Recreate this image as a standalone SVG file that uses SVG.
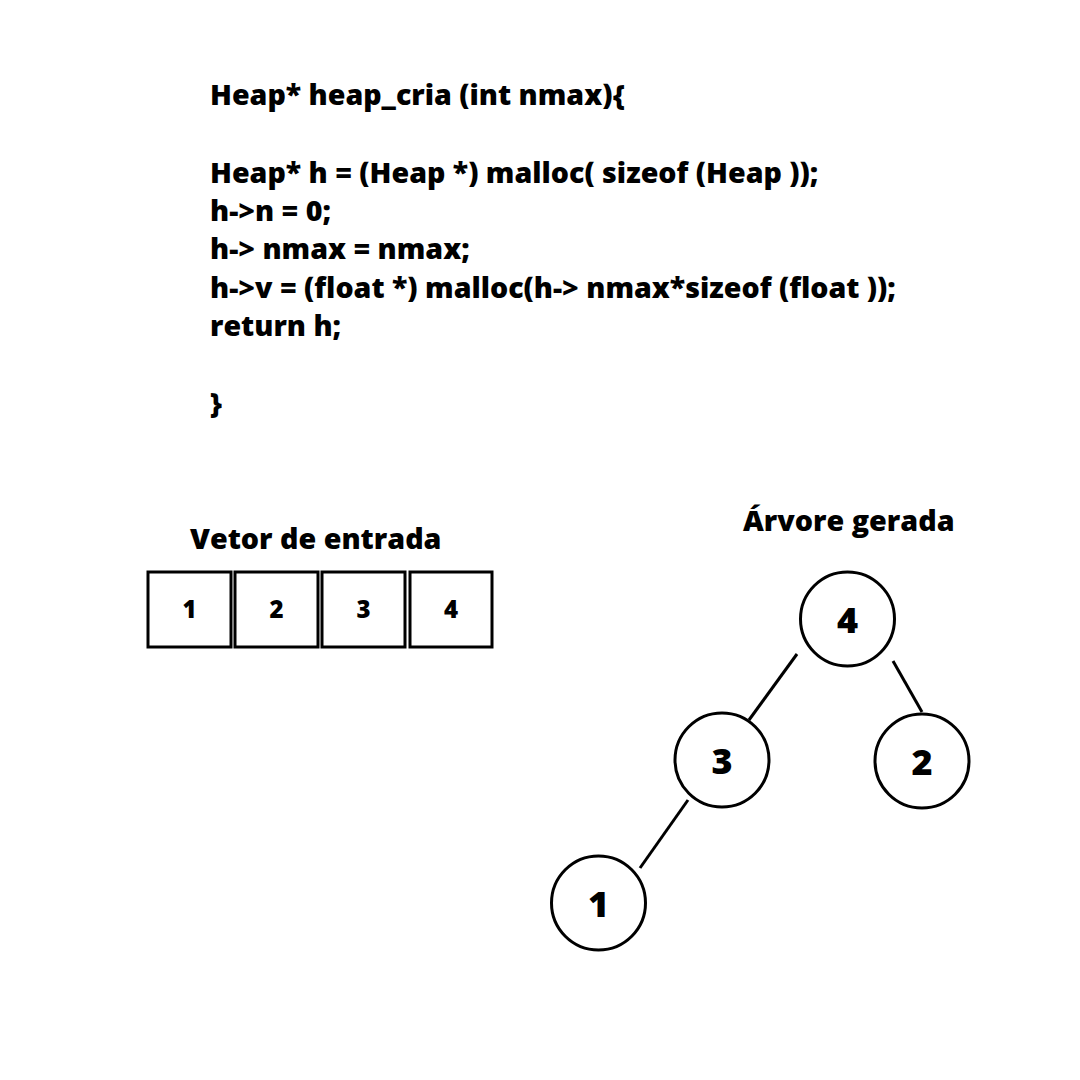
<svg xmlns="http://www.w3.org/2000/svg" width="1080" height="1080" viewBox="0 0 1080 1080">
<style>
text{font-family:"Open Sans","Liberation Sans",sans-serif;font-weight:800;fill:#000}
.code{font-size:28.6px}
.title{font-size:28.7px}
.box{fill:#fff;stroke:#000;stroke-width:3}
.bn{font-size:24px;text-anchor:middle}
.node{fill:#fff;stroke:#000;stroke-width:3}
.nn{font-size:36px;text-anchor:middle}
.edge{stroke:#000;stroke-width:3;stroke-linecap:butt}
</style>
<rect width="1080" height="1080" fill="#fff"/>
<g id="code">
<text class="code" x="210" y="105">Heap* heap_cria (int nmax){</text>
<text class="code" x="210" y="183">Heap* h = (Heap *) malloc( sizeof (Heap ));</text>
<text class="code" x="210" y="221">h-&gt;n = 0;</text>
<text class="code" x="210" y="259">h-&gt; nmax = nmax;</text>
<text class="code" x="210" y="298">h-&gt;v = (float *) malloc(h-&gt; nmax*sizeof (float ));</text>
<text class="code" x="210" y="336">return h;</text>
<text class="code" x="210" y="413">}</text>
</g>
<g id="vetor">
<text class="title" x="190" y="549">Vetor de entrada</text>
<rect class="box" x="148" y="572" width="83" height="75"/>
<rect class="box" x="235" y="572" width="83" height="75"/>
<rect class="box" x="322" y="572" width="83" height="75"/>
<rect class="box" x="410" y="572" width="82" height="75"/>
<text class="bn" x="189.5" y="618">1</text>
<text class="bn" x="276.5" y="618">2</text>
<text class="bn" x="363.5" y="618">3</text>
<text class="bn" x="451" y="618">4</text>
</g>
<text class="title" x="743" y="531">Árvore gerada</text>
<g id="edges">
<line class="edge" x1="797" y1="654" x2="749" y2="720"/>
<line class="edge" x1="893" y1="661" x2="922" y2="712"/>
<line class="edge" x1="688" y1="800" x2="640" y2="868"/>
</g>
<g id="n4"><circle class="node" cx="847.5" cy="619" r="47"/><text class="nn" x="847.5" y="633">4</text></g>
<g id="n3"><circle class="node" cx="722" cy="760" r="47"/><text class="nn" x="722" y="774">3</text></g>
<g id="n2"><circle class="node" cx="922" cy="761" r="47"/><text class="nn" x="922" y="775">2</text></g>
<g id="n1"><circle class="node" cx="598.5" cy="903" r="47"/><text class="nn" x="598.5" y="917">1</text></g>
</svg>
